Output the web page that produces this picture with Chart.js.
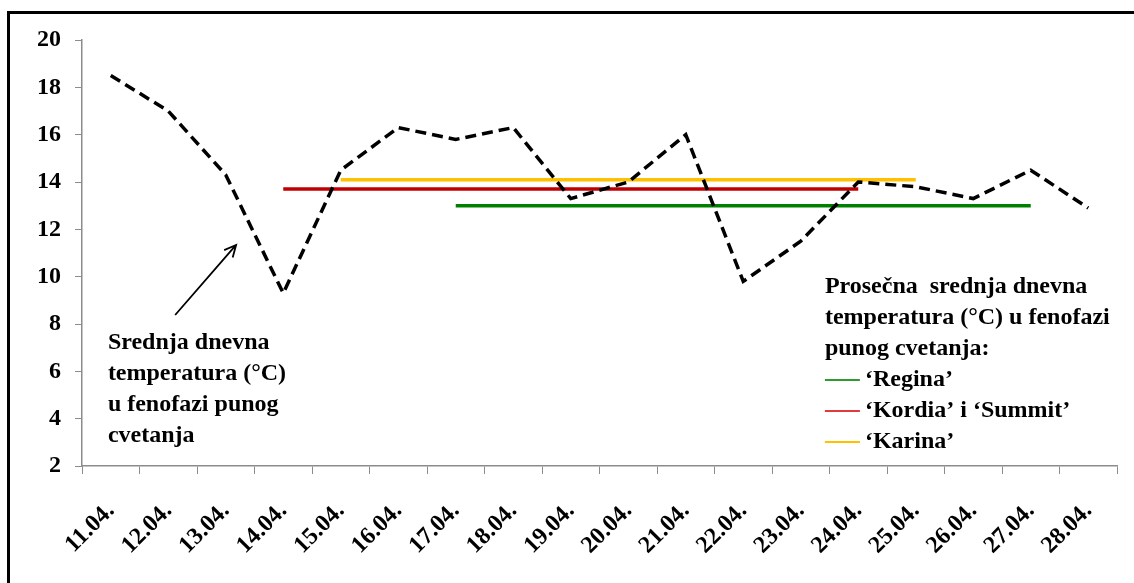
<!DOCTYPE html>
<html>
<head>
<meta charset="utf-8">
<script src="https://cdn.jsdelivr.net/npm/chart.js@4.4.1/dist/chart.umd.min.js"></script>
<style>
  html, body { margin: 0; padding: 0; background: #fff; }
  #wrap { position: relative; width: 1134px; height: 583px; overflow: hidden; }
  #frame { position: absolute; left: 7px; top: 11px; width: 1400px; height: 900px; border: 3px solid #000; box-sizing: border-box; }
  #tempChart { position: absolute; left: 0; top: 0; }
</style>
</head>
<body>
<div id="wrap">
  <div id="frame"></div>
  <canvas id="tempChart" width="1134" height="583"></canvas>
</div>
<script>
/* ========================================
   DATA
======================================== */
const days = ["11.04.", "12.04.", "13.04.", "14.04.", "15.04.", "16.04.", "17.04.", "18.04.", "19.04.",
  "20.04.", "21.04.", "22.04.", "23.04.", "24.04.", "25.04.", "26.04.", "27.04.", "28.04."];

const dailyTemp = [18.5, 17.0, 14.3, 9.3, 14.5, 16.3, 15.8, 16.3, 13.3,
  14.0, 16.0, 9.8, 11.5, 14.0, 13.8, 13.3, 14.5, 12.9];

// average temperature during full bloom, per cultivar
const reginaAvg = [null, null, null, null, null, null, 13.0, 13.0, 13.0,
  13.0, 13.0, 13.0, 13.0, 13.0, 13.0, 13.0, 13.0, null];
const kordiaAvg = [null, null, null, 13.7, 13.7, 13.7, 13.7, 13.7, 13.7,
  13.7, 13.7, 13.7, 13.7, 13.7, null, null, null, null];
const karinaAvg = [null, null, null, null, 14.1, 14.1, 14.1, 14.1, 14.1,
  14.1, 14.1, 14.1, 14.1, 14.1, 14.1, null, null, null];

const yTicks = [2, 4, 6, 8, 10, 12, 14, 16, 18, 20];

const noteLines = ["Srednja dnevna", "temperatura (°C)", "u fenofazi punog", "cvetanja"];
const legendTitle = ["Prosečna  srednja dnevna", "temperatura (°C) u fenofazi", "punog cvetanja:"];
const legendItems = ["‘Regina’", "‘Kordia’ i ‘Summit’", "‘Karina’"];
const legendColors = ["#2f9a2f", "#e03a3a", "#ffc000"];

const FONT = "bold 24px 'Liberation Serif', 'Times New Roman', serif";

/* ========================================
   TEXT + ARROW + LEGEND (drawn in data units)
======================================== */
const notesPlugin = {
  id: "notes",
  afterDraw(chart) {
    const ctx = chart.ctx;
    const x = chart.scales.x;
    const y = chart.scales.y;
    const lh = 31;

    ctx.save();
    ctx.font = FONT;
    ctx.fillStyle = "#000";
    ctx.textAlign = "left";
    ctx.textBaseline = "middle";

    // left annotation
    const nx = x.getPixelForValue(-0.05);
    const ny = y.getPixelForValue(7.2);
    noteLines.forEach((t, i) => ctx.fillText(t, nx, ny + i * lh));

    // arrow
    const ax0 = x.getPixelForValue(1.12), ay0 = y.getPixelForValue(8.38);
    const ax1 = x.getPixelForValue(2.18), ay1 = y.getPixelForValue(11.34);
    const ang = Math.atan2(ay1 - ay0, ax1 - ax0);
    ctx.strokeStyle = "#000";
    ctx.lineWidth = 1.8;
    ctx.beginPath();
    ctx.moveTo(ax0, ay0);
    ctx.lineTo(ax1, ay1);
    ctx.moveTo(ax1 - 13 * Math.cos(ang - 0.45), ay1 - 13 * Math.sin(ang - 0.45));
    ctx.lineTo(ax1, ay1);
    ctx.lineTo(ax1 - 13 * Math.cos(ang + 0.45), ay1 - 13 * Math.sin(ang + 0.45));
    ctx.stroke();

    // legend
    const lx = x.getPixelForValue(12.42);
    const ly = y.getPixelForValue(9.56);
    legendTitle.forEach((t, i) => ctx.fillText(t, lx, ly + i * lh));
    legendItems.forEach((t, i) => {
      const yy = ly + (legendTitle.length + i) * lh;
      ctx.strokeStyle = legendColors[i];
      ctx.lineWidth = 2;
      ctx.beginPath();
      ctx.moveTo(lx, yy);
      ctx.lineTo(lx + 35, yy);
      ctx.stroke();
      ctx.fillText(t, lx + 40, yy);
    });
    ctx.restore();
  }
};

/* ========================================
   CHART
======================================== */
const ctx = document.getElementById("tempChart").getContext("2d");

new Chart(ctx, {
  type: "line",
  data: {
    labels: days,
    datasets: [
      {
        label: "Srednja dnevna temperatura",
        data: dailyTemp,
        borderColor: "#000",
        borderWidth: 3.5,
        borderDash: [11, 6],
        pointRadius: 0,
        tension: 0,
        fill: false
      },
      { label: "Regina", data: reginaAvg, borderColor: "#008000", borderWidth: 3.5, pointRadius: 0, spanGaps: false },
      { label: "Kordia i Summit", data: kordiaAvg, borderColor: "#c00000", borderWidth: 3.5, pointRadius: 0, spanGaps: false },
      { label: "Karina", data: karinaAvg, borderColor: "#ffc000", borderWidth: 3.5, pointRadius: 0, spanGaps: false }
    ]
  },
  options: {
    responsive: false,
    animation: false,
    devicePixelRatio: 1,
    layout: { padding: { top: 40, right: 17, left: 0, bottom: 0 } },
    plugins: {
      legend: { display: false },
      tooltip: { enabled: false }
    },
    scales: {
      x: {
        offset: true,
        grid: { offset: true, drawOnChartArea: false, drawTicks: true, tickLength: 8, color: "#8c8c8c" },
        border: { color: "#8c8c8c", width: 1.5 },
        ticks: { font: { family: "'Liberation Serif', serif", size: 24, weight: "bold" }, color: "#000",
          minRotation: 45, maxRotation: 45, autoSkip: false, padding: 23 },
        afterFit: s => { s.height = 117; }
      },
      y: {
        min: 2,
        max: 20,
        afterBuildTicks: s => { s.ticks = yTicks.map(v => ({ value: v })); },
        grid: { drawOnChartArea: false, drawTicks: true, tickLength: 7, color: "#8c8c8c" },
        border: { color: "#8c8c8c", width: 1.5 },
        ticks: { font: { family: "'Liberation Serif', serif", size: 24, weight: "bold" }, color: "#000", padding: 14 },
        afterFit: s => { s.width = 82; }
      }
    }
  },
  plugins: [notesPlugin]
});
</script>
</body>
</html>
